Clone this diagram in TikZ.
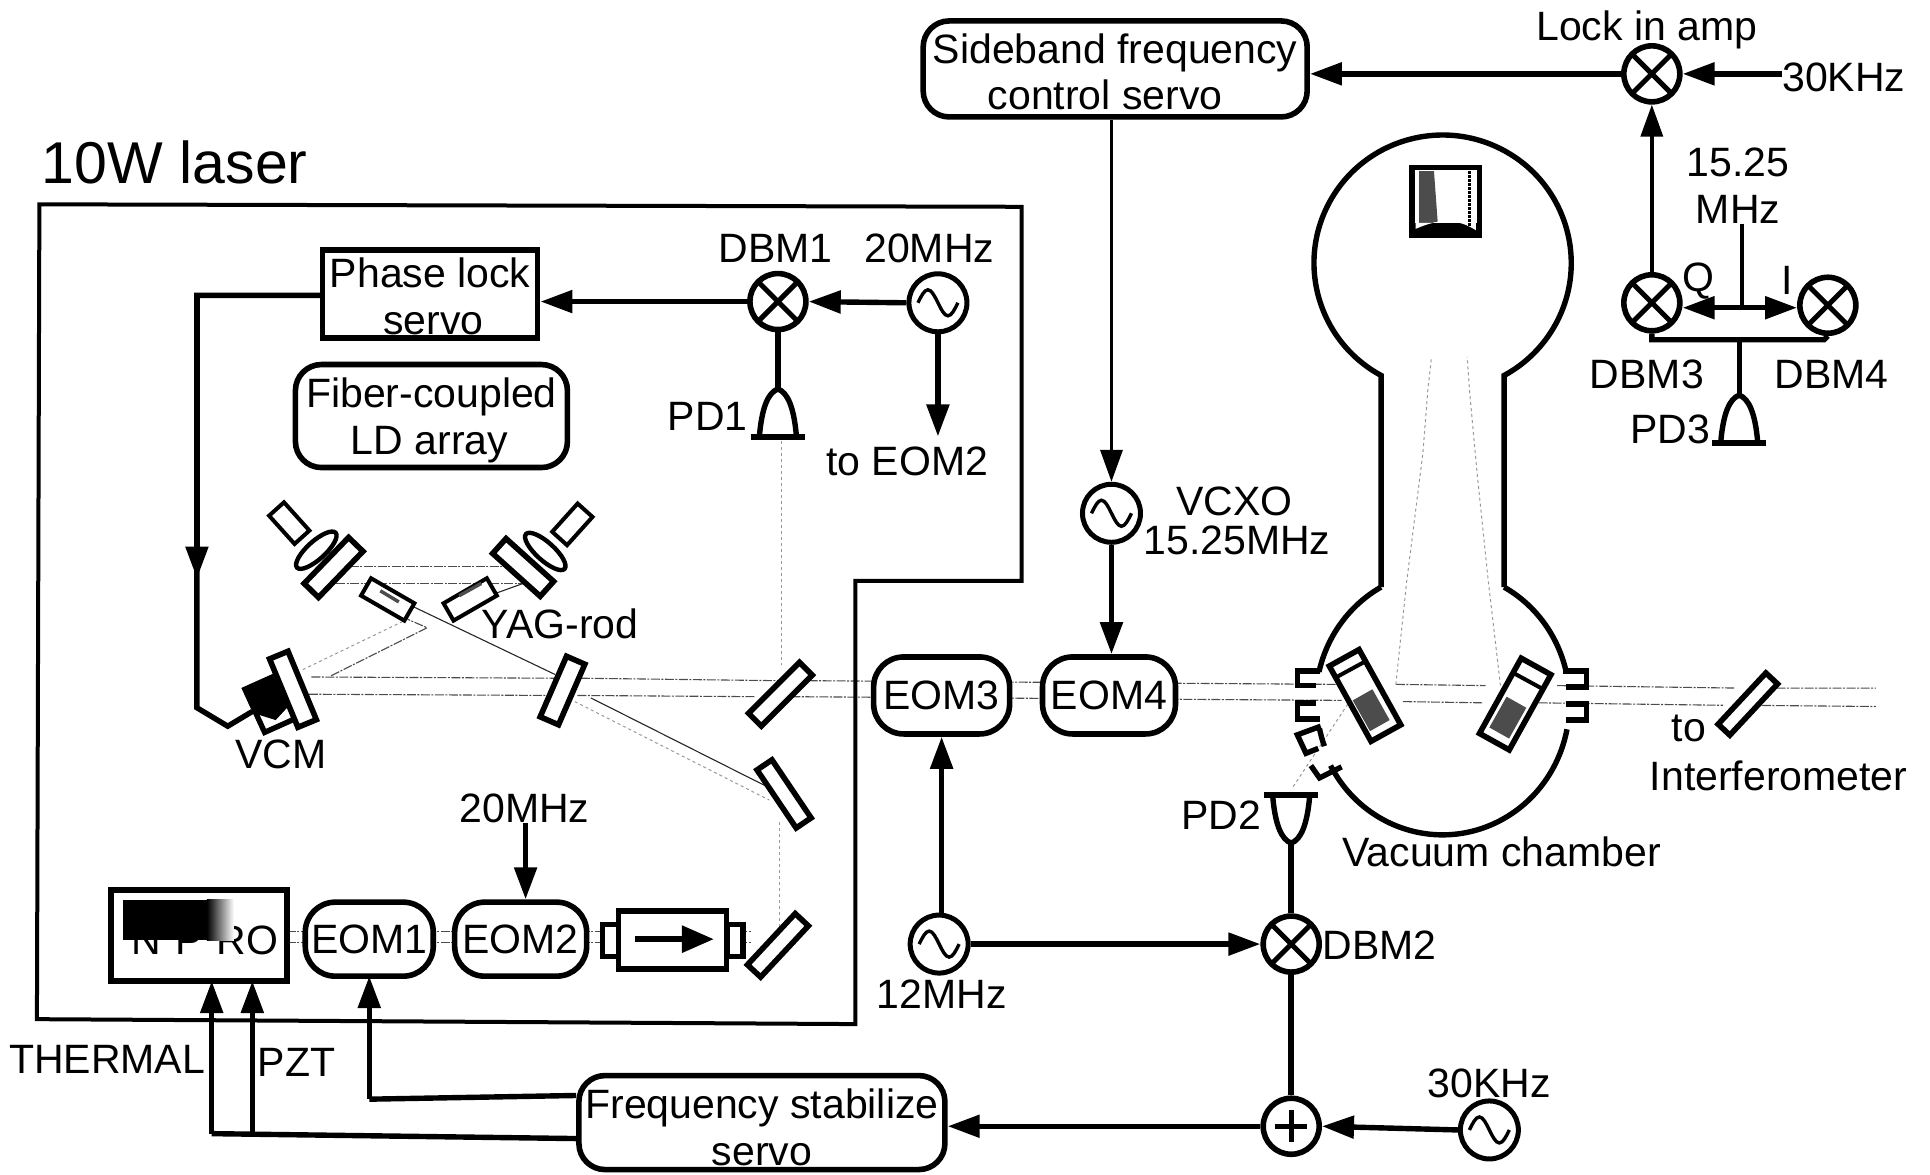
\documentclass[tikz,border=0pt]{standalone}
\usepackage{fontspec}
\setmainfont{Liberation Sans}
\usetikzlibrary{arrows.meta,calc,shapes.geometric}
\newcommand{\lowerby}[1]{\rule{0pt}{#1}}
\tikzset{
  wire/.style={line width=5.4pt,line join=miter},
  thinwire/.style={line width=3.6pt},
  arr/.style={wire,-{Triangle[length=32pt,width=22pt]}},
  thinarr/.style={thinwire,-{Triangle[length=32pt,width=22pt]}},
  beam/.style={line width=1.1pt,draw=black!70,dash pattern=on 9pt off 1.5pt on 2pt off 1.5pt},
  faint/.style={line width=1pt,draw=black!40,dash pattern=on 3pt off 3pt},
  dark/.style={line width=1.1pt,draw=black!85},
  lab/.style={inner sep=0pt,font=\fontsize{41}{48}\selectfont,align=center},
  bigbox/.style={draw,line width=5.6pt,fill=white,inner sep=0pt,rounded corners=#1,font=\fontsize{41}{47}\selectfont,align=center},
  optic/.style={draw,line width=5.6pt,fill=white,inner sep=0pt},
  mixer/.style={circle,draw,line width=5.6pt,fill=white,minimum size=56pt,inner sep=0pt,
    path picture={\draw[line width=5pt] (path picture bounding box.north west)--(path picture bounding box.south east)
      (path picture bounding box.north east)--(path picture bounding box.south west);}},
  adder/.style={circle,draw,line width=5.6pt,fill=white,minimum size=56pt,inner sep=0pt,
    path picture={\draw[line width=5pt] ([yshift=-12pt]path picture bounding box.north)--([yshift=12pt]path picture bounding box.south)
      ([xshift=-12pt]path picture bounding box.east)--([xshift=12pt]path picture bounding box.west);}},
  osc/.style={circle,draw,line width=5pt,fill=white,minimum size=58pt,inner sep=0pt,
    path picture={\draw[line width=3.4pt] (path picture bounding box.center) ++(-20pt,0) sin ++(10pt,13pt) cos ++(10pt,-13pt) sin ++(10pt,-13pt) cos ++(10pt,13pt);}},
  pdiode/.pic={\draw[wire] (-15,38) .. controls (-13,15) and (-8,3) .. (0,0) .. controls (8,3) and (13,15) .. (15,38);
    \draw[wire] (-22,39) -- (22,39);}
}
\begin{document}
\begin{tikzpicture}[x=1.2309pt,y=-1.2309pt]
\useasboundingbox (0,0) rectangle (1568,954);

% ---- beams
\draw[beam] (253,550) -- (451,551);
\draw[beam] (251,564) -- (447,565);
\draw[beam] (472,551) -- (632,553) (657,553) -- (1085,556);
\draw[beam] (469,565) -- (614,566) (643,566) -- (1090,569);
\draw[beam] (1134,556) -- (1207,557);
\draw[beam] (1140,570) -- (1205,571);
\draw[beam] (1265,557) -- (1410,559) (1432,559) -- (1524,559);
\draw[beam] (1250,571) -- (1400,573) (1420,573) -- (1524,574);
\draw[beam] (284,460) -- (411,460);
\draw[beam] (273,474) -- (425,474);
\draw[dark] (425,474) -- (400,483);
\draw[dark] (336,493) -- (451,548);
\draw[faint] (246,544) -- (327,505);
\draw[beam] (269,549) -- (347,510) -- (331,503);
\draw[dark] (480,567) -- (621,638);
\draw[faint] (467,570) -- (625,650);
\draw[faint] (635,358) -- (635,540);
\draw[faint] (633,668) -- (633,755);
\draw[beam] (233,757) -- (610,757);
\draw[beam] (233,766) -- (610,766);
\draw[faint] (1134,556) -- (1143,471) -- (1156,368) -- (1160,317) -- (1163,290);
\draw[faint] (1219,557) -- (1209,471) -- (1200,384) -- (1194,319) -- (1192,290);
\draw[faint] (1095,572) -- (1050,640);

% ---- laser enclosure
\draw[line width=4pt,line join=miter] (32,166) -- (830,168) -- (830,472) -- (695,472) -- (695,832) -- (30,828) -- cycle;

% ---- vacuum chamber
\draw[wire] (1122,477) -- (1122,305) arc[start angle=118.6,end angle=421.4,x radius=104.5,y radius=104] -- (1222,477);
\draw[wire] (1122,477) arc[start angle=241,end angle=193,x radius=103,y radius=106];
\draw[wire] (1072,592) arc[start angle=168,end angle=160,x radius=103,y radius=106];
\draw[wire] (1081,622) arc[start angle=152,end angle=11,x radius=103,y radius=106];
\draw[wire] (1222,477) arc[start angle=-61,end angle=-13,x radius=103,y radius=106];
\draw[wire] (1072,545) -- (1054,545) -- (1054,557) -- (1069,557);
\draw[wire] (1069,571) -- (1054,571) -- (1054,584) -- (1072,584);
\draw[wire] (1270,545) -- (1289,545) -- (1289,558) -- (1272,558);
\draw[wire] (1272,572) -- (1289,572) -- (1289,585) -- (1272,585);
\draw[wire] (1073,590) -- (1054,597) -- (1061,612) -- (1071,608);
\draw[wire] (1065,622) -- (1072,632) -- (1090,623);

% ---- test mass at the end of the neck
\draw[line width=5.6pt,fill=white] (1147,136) rectangle (1202,191);
\fill[black!70] (1153,139) -- (1165,139) -- (1168,180) -- (1153,184) -- cycle;
\fill[black] (1147,181) -- (1202,181) -- (1202,191) -- (1147,191) -- cycle;
\fill[white] (1150,186) .. controls (1170,177) and (1185,178) .. (1199,187) -- (1199,181) -- (1150,181) -- cycle;
\draw[line width=3pt,dash pattern=on 3pt off 1pt] (1194,139) -- (1194,184);

% ---- mirrors in the chamber
\node[optic,minimum width=86pt,minimum height=34pt,rotate=-61] (tankl) at (1109,565) {};
\node[optic,minimum width=86pt,minimum height=34pt,rotate=61] (tankr) at (1231,572) {};
\fill[black!70] (1129,585) -- (1113,594) -- (1099,569) -- (1115,560) -- cycle;
\fill[black!70] (1226,600) -- (1210,591) -- (1224,566) -- (1240,575) -- cycle;
\draw[line width=4pt] (1086,550) -- (1108,538) (1230,547) -- (1252,559);

% ---- optics inside the laser
\node[optic,minimum width=64pt,minimum height=20pt,rotate=46] (mcl) at (271,461) {};
\node[optic,minimum width=64pt,minimum height=20pt,rotate=-42] (mcr) at (425,461) {};
\node[ellipse,draw,line width=4.4pt,fill=white,minimum width=52pt,minimum height=18pt,inner sep=0pt,rotate=42] (lensl) at (257,447) {};
\node[ellipse,draw,line width=4.4pt,fill=white,minimum width=52pt,minimum height=18pt,inner sep=0pt,rotate=-42] (lensr) at (443,448) {};
\node[optic,line width=4pt,minimum width=38pt,minimum height=20pt,rotate=-48] (ldl) at (235,425) {};
\node[optic,line width=4pt,minimum width=38pt,minimum height=20pt,rotate=48] (ldr) at (465,426) {};
\node[optic,line width=4pt,minimum width=50pt,minimum height=20pt,rotate=-30] (rodl) at (315,487) {};
\node[optic,line width=4pt,minimum width=50pt,minimum height=20pt,rotate=30] (rodr) at (382,487) {};
\draw[line width=3.4pt,black!70] (309,480) -- (324,489) (373,484) -- (391,474);
\draw[wire,fill=white] (199,560) -- (228,547) -- (244,582) -- (215,595) -- cycle;
\fill[black] (199,560) -- (228,547) -- (236,572) -- (224,585) -- (208,580) -- cycle;
\coordinate (vcmin) at (205,578);
\node[optic,minimum width=74pt,minimum height=20pt,rotate=-67.5] (mvcm) at (238,560) {};
\node[optic,minimum width=66pt,minimum height=20pt,rotate=66.5] (m2) at (457,561) {};
\node[optic,minimum width=72pt,minimum height=18pt,rotate=45] (m3) at (634,564) {};
\node[optic,minimum width=70pt,minimum height=18pt,rotate=-56] (m4) at (637,645) {};
\node[optic,minimum width=70pt,minimum height=18pt,rotate=47] (m5) at (632,768) {};
\node[optic,minimum width=70pt,minimum height=16pt,rotate=47] (m6) at (1420,572) {};

% ---- laser head
\node[draw,line width=5.6pt,fill=white,minimum width=176pt,minimum height=91pt,inner sep=0pt] (npro) at (161.5,760) {};
\node[lab,anchor=east] (nprot) at (226,764) {N\kern14pt P\kern14pt RO};
\fill[black] (100,731) -- (168,731) -- (168,764) -- (100,764) -- cycle;
\shade[left color=black,right color=white] (168,731) rectangle (190,764);
\node[bigbox=30pt,minimum width=128pt,minimum height=74pt] (eomi) at (300,763) {EOM1};
\node[bigbox=30pt,minimum width=132pt,minimum height=74pt] (eomii) at (423,763) {EOM2};
\node[bigbox=30pt,minimum width=136pt,minimum height=77pt] (eomiii) at (765,565) {EOM3};
\node[bigbox=30pt,minimum width=133pt,minimum height=77pt] (eomiv) at (901,565) {EOM4};

% ---- isolator
\node[optic,minimum width=16pt,minimum height=32pt] (isol) at (496,764) {};
\node[optic,minimum width=16pt,minimum height=32pt] (isor) at (597,764) {};
\node[optic,minimum width=108pt,minimum height=58pt] (iso) at (546.5,763.5) {};
\coordinate (isoa) at (516,763);
\coordinate (isob) at (580,763);
\draw[wire,line width=6pt,-{Triangle[length=32pt,width=26pt]}] (isoa) -- (isob);

% ---- electronics boxes
\node[bigbox=26pt,minimum width=384pt,minimum height=96pt] (side) at (906,56) {\lowerby{36pt}Sideband frequency\\[-1pt]control servo\kern20pt\relax};
\node[draw,line width=5.6pt,fill=white,inner sep=0pt,minimum width=215pt,minimum height=88pt,font=\fontsize{41}{47}\selectfont,align=center] (phase) at (349.5,239) {\lowerby{34pt}Phase lock\\\hspace{6pt}servo};
\node[bigbox=26pt,minimum width=272pt,minimum height=103pt] (fiber) at (350.5,338) {\lowerby{38pt}Fiber-coupled\\LD array\kern4pt\relax};
\node[bigbox=26pt,minimum width=366pt,minimum height=94pt] (freq) at (619,912) {\lowerby{40pt}Frequency stabilize\\servo};

% ---- mixers etc.
\node[mixer] (lock) at (1342,60) {};
\node[mixer] (dbmiii) at (1342,246) {};
\node[mixer] (dbmiv) at (1485,248) {};
\node[mixer] (dbmi) at (632,245) {};
\node[mixer] (dbmii) at (1049,767) {};
\node[adder] (plus) at (1049,915) {};
\node[osc] (oscxx) at (762,246) {};
\node[osc] (vcxo) at (903,417) {};
\node[osc] (oscxii) at (763,767) {};
\node[osc] (oscxxx) at (1210,918) {};

% ---- photodiodes
\pic at (632,316) {pdiode};
\coordinate (pdi) at (632,316);
\pic at (1413,321) {pdiode};
\coordinate (pdiii) at (1413,321);
\pic[yscale=-1] at (1049,685) {pdiode};
\coordinate (pdii) at (1049,685);
\coordinate (jq) at (1413,275);

% ---- free ends and texts
\node[lab] (txtlaser) at (142,132) {\fontsize{59}{60}\selectfont 10W laser};
\node[lab] (txtlock) at (1338,24) {Lock in amp};
\node[lab] (in30a) at (1498,63) {30KHz};
\node[lab] (txtf) at (1412,132) {15.25};
\node[lab] (txtmhz) at (1412,170) {MHz};
\node[lab] (txtq) at (1380,228) {Q};
\node[lab] (txti) at (1452,228) {I};
\node[lab] (txtd3) at (1338,304) {DBM3};
\node[lab] (txtd4) at (1488,304) {DBM4};
\node[lab] (txtp3) at (1357,349) {PD3};
\node[lab] (txtvcxo) at (1003,407) {VCXO};
\node[lab] (txtvf) at (1005,439) {15.25MHz};
\node[lab] (txtd1) at (630,202) {DBM1};
\node[lab] (txt20a) at (755,202) {20MHz};
\node[lab] (txtp1) at (575,338) {PD1};
\node[lab] (txteom) at (737,375) {to EOM2};
\node[lab] (txtyag) at (455,507) {YAG-rod};
\node[lab] (txtvcm) at (228,613) {VCM};
\node[lab] (in20) at (426,657) {20MHz};
\node[lab] (txtto) at (1372,592) {to};
\node[lab] (txtint) at (1445,630) {Interferometer};
\node[lab] (txtp2) at (992,662) {PD2};
\node[lab] (txtvac) at (1220,692) {Vacuum chamber};
\node[lab] (txtd2) at (1121,768) {DBM2};
\node[lab] (txt12) at (765,808) {12MHz};
\node[lab] (txt30b) at (1210,880) {30KHz};
\node[lab] (txtth) at (87,861) {THERMAL};
\node[lab] (txtpzt) at (241,863) {PZT};

% ---- connectors
\draw[arr] (lock.west) -- (lock.west -| side.east);
\draw[arr] (lock.east -| in30a.west) -- (lock.east);
\draw[thinarr] (dbmiii.north) -- (lock.south);
\draw[thinarr] (side.south -| vcxo) -- (vcxo.north);
\draw[arr] (vcxo.south) -- (vcxo |- eomiv.north);
\draw[thinwire] (txtmhz.south) ++(3,0) coordinate (qa) -- (qa |- 0,250);
\draw[arr] (1415,250) -- (dbmiii.east |- 0,250);
\draw[arr] (1415,250) -- (dbmiv.west |- 0,250);
\draw[wire] (dbmiii.south) -- (1342,276) -- (1482,276) -- (dbmiv.south);
\draw[wire] (jq) -- (pdiii);
\draw[wire] (dbmi.south) -- (pdi);
\draw[arr] (oscxx.west) -- (dbmi.east);
\draw[arr] (dbmi.west) -- (dbmi.west -| phase.east);
\draw[arr] (oscxx.south) -- ++(0,83);
\coordinate (turna) at (160,240);
\coordinate (turnb) at (160,470);
\coordinate (turnc) at (160,575);
\coordinate (turnd) at (185,590);
\draw[wire] (phase.west |- turna) -- (turna) -- (turnc) -- (turnd) -- (vcmin);
\draw[arr] (turna) -- (turnb);
\draw[arr] (in20.south) ++(1,0) coordinate (ia) -- (ia |- eomii.north);
\draw[arr] (oscxii.north) ++(2,0) coordinate (ib) -- (ib |- eomiii.south);
\draw[arr] (oscxii.east) -- (dbmii.west);
\draw[wire] (pdii) -- (dbmii.north);
\draw[wire] (dbmii.south) -- (plus.north);
\draw[arr] (oscxxx.west) -- (plus.east);
\draw[arr] (plus.west) -- (plus.west -| freq.east);
\draw[wire] (freq.west |- 0,890) -- (300,893);
\draw[arr] (300,893) -- (300,793);
\draw[wire] (freq.west |- 0,925) -- (172,921);
\draw[arr] (172,921) -- (172,797);
\draw[arr] (205,921) -- (205,797);
\end{tikzpicture}
\end{document}
